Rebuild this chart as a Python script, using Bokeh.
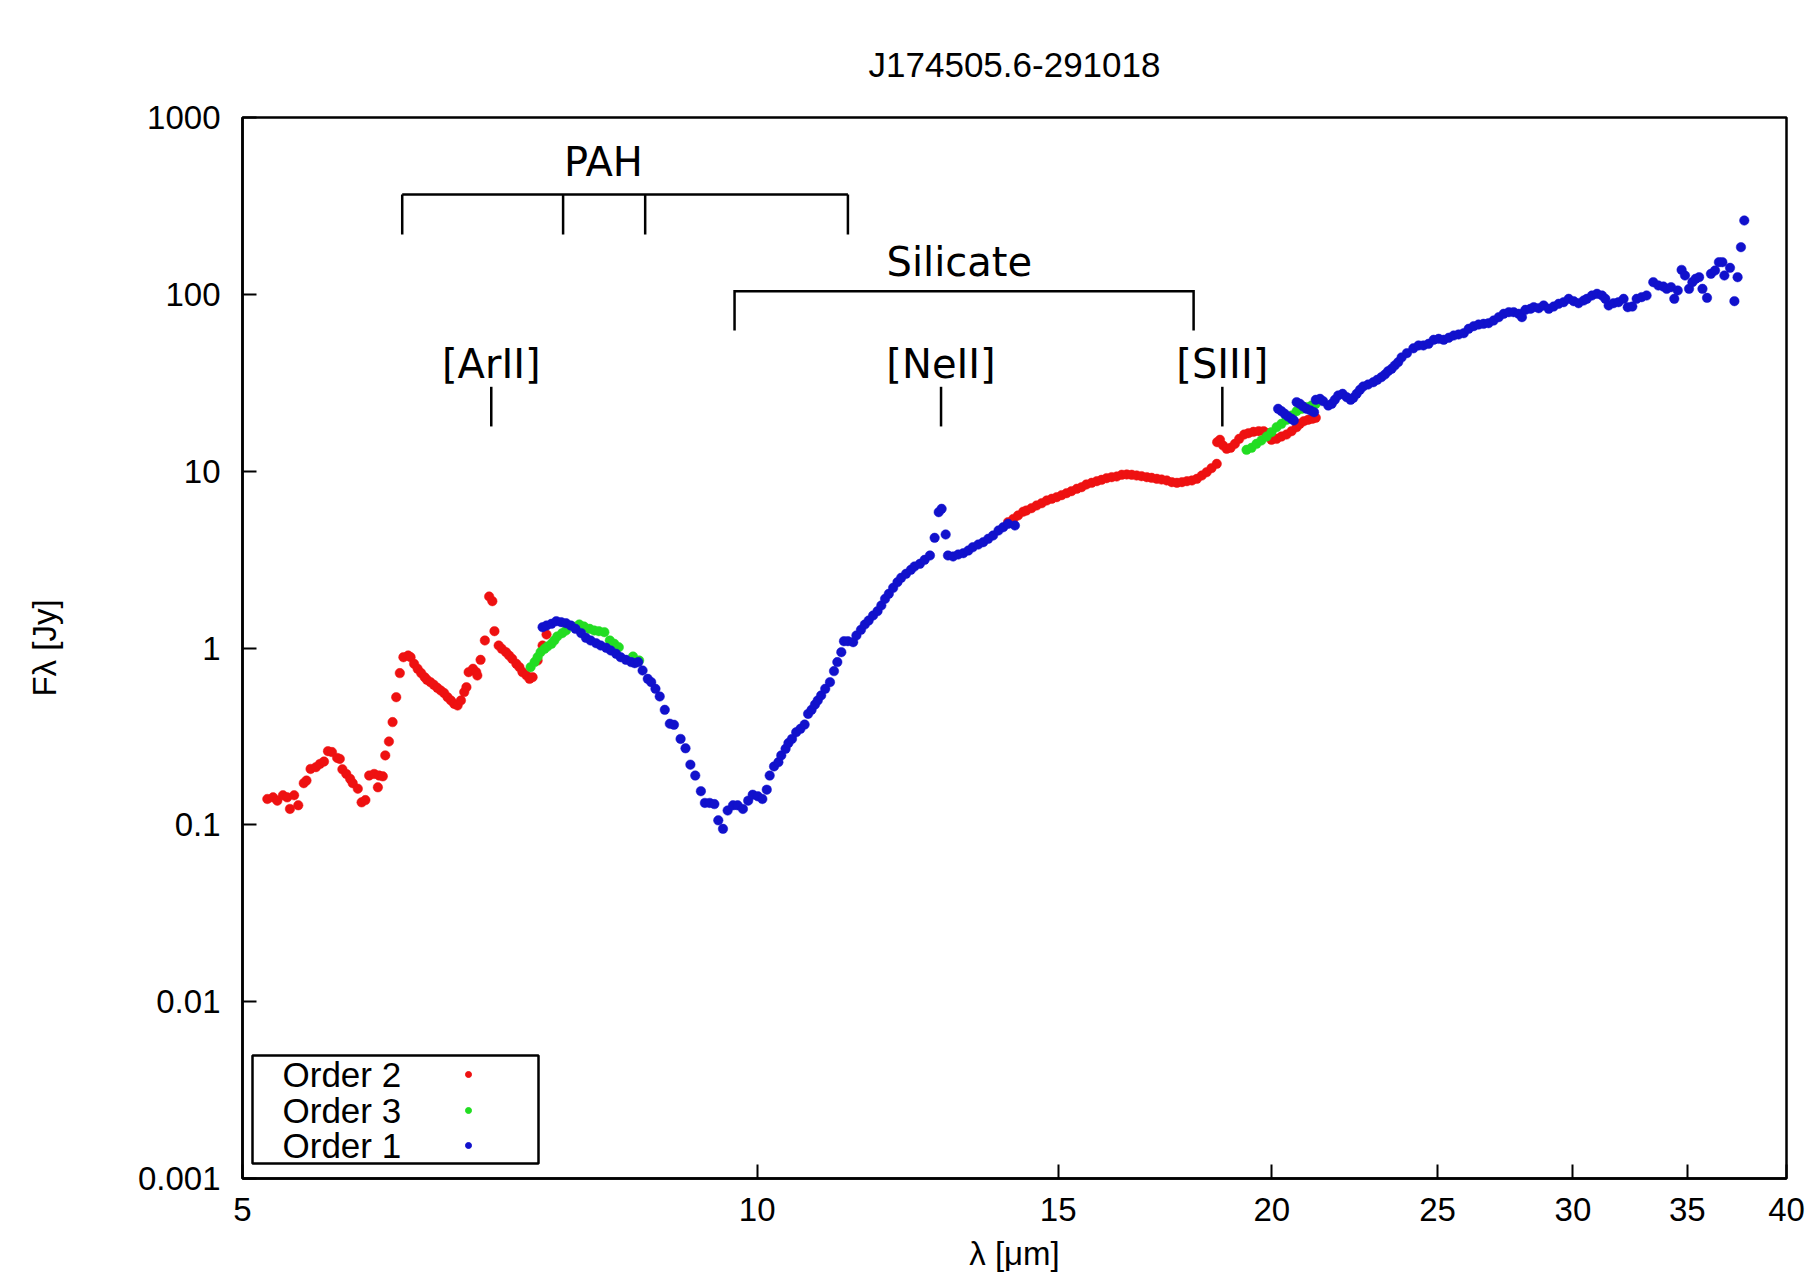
from bokeh.plotting import figure
from bokeh.models import (Range1d, FixedTicker, CustomJSTickFormatter, Label,
                          BoxAnnotation, LinearScale)
from bokeh.core.properties import value
from bokeh.embed import file_html
from bokeh.resources import INLINE

# ---------------- texts ----------------
title_text = "J174505.6-291018"
x_label = "λ [μm]"
y_label = "Fλ [Jy]"
legend_labels = ["Order 2", "Order 3", "Order 1"]

# ---------------- axes ----------------
x_ticks = [5, 10, 15, 20, 25, 30, 35, 40]
y_ticks = [0.001, 0.01, 0.1, 1, 10, 100, 1000]

# ---------------- Order 2 (red) ----------------
order2_wl = [
    5.17, 5.21, 5.24, 5.28, 5.31, 5.33, 5.36, 5.39, 5.43, 5.45,
    5.48, 5.52, 5.55, 5.58, 5.61, 5.64, 5.68, 5.70, 5.72, 5.75,
    5.78, 5.80, 5.84, 5.87, 5.90, 5.93, 5.97, 6.00, 6.01, 6.04,
    6.06, 6.09, 6.12, 6.15, 6.18, 6.21, 6.25, 6.27, 6.30, 6.33,
    6.36, 6.39, 6.41, 6.44, 6.47, 6.50, 6.53, 6.56, 6.59, 6.62,
    6.65, 6.68, 6.71, 6.74, 6.76, 6.78, 6.82, 6.85, 6.86, 6.89,
    6.93, 6.97, 7.00, 7.02, 7.06, 7.09, 7.13, 7.16, 7.19, 7.23,
    7.26, 7.29, 7.33, 7.36, 7.39, 7.44, 7.49, 7.53,
    14.02, 14.12, 14.21, 14.31, 14.37, 14.47, 14.57, 14.67, 14.77, 14.87,
    14.97, 15.07, 15.17, 15.27, 15.38, 15.48, 15.58, 15.69, 15.80, 15.90,
    16.01, 16.12, 16.23, 16.34, 16.45, 16.56, 16.67, 16.78, 16.90, 17.01,
    17.13, 17.24, 17.36, 17.48, 17.60, 17.72, 17.84, 17.96, 18.08, 18.20,
    18.32, 18.44, 18.57,
    18.58, 18.65, 18.73, 18.82, 18.92, 19.03, 19.14, 19.27, 19.38, 19.51,
    19.65, 19.78, 19.89, 19.99, 20.13, 20.26, 20.40, 20.54, 20.68, 20.77,
    20.88, 21.00, 21.12, 21.22,
]
order2_flux = [
    0.140, 0.143, 0.137, 0.147, 0.143, 0.123, 0.147, 0.129, 0.172, 0.178,
    0.207, 0.212, 0.221, 0.228, 0.261, 0.258, 0.239, 0.236, 0.206, 0.194,
    0.182, 0.172, 0.160, 0.134, 0.138, 0.190, 0.194, 0.163, 0.190, 0.188,
    0.247, 0.296, 0.381, 0.527, 0.721, 0.887, 0.907, 0.887, 0.814, 0.763,
    0.721, 0.684, 0.661, 0.641, 0.619, 0.595, 0.575, 0.556, 0.527, 0.505,
    0.483, 0.473, 0.505, 0.563, 0.600, 0.730, 0.763, 0.730, 0.699, 0.857,
    1.103, 1.955, 1.840, 1.245, 1.033, 0.989, 0.947, 0.907, 0.868, 0.814,
    0.779, 0.730, 0.699, 0.669, 0.684, 0.850, 1.033, 1.192,
    5.15, 5.37, 5.62, 5.90, 5.99, 6.18, 6.40, 6.59, 6.83, 6.98,
    7.13, 7.32, 7.51, 7.71, 7.95, 8.12, 8.41, 8.59, 8.78, 8.93,
    9.13, 9.25, 9.33, 9.54, 9.58, 9.54, 9.45, 9.37, 9.25, 9.17,
    9.05, 8.97, 8.86, 8.67, 8.59, 8.67, 8.78, 8.86, 9.05, 9.45,
    9.87, 10.40, 11.00,
    14.59, 15.04, 13.97, 13.38, 13.55, 14.27, 15.23, 16.12, 16.40, 16.69,
    16.84, 16.84, 16.40, 15.04, 15.23, 15.70, 16.12, 16.84, 17.74, 18.52,
    19.17, 19.51, 19.77, 20.03,
]

# ---------------- Order 3 (green) ----------------
order3_wl = [
    7.37, 7.41, 7.44, 7.47, 7.51, 7.54, 7.58, 7.61, 7.64, 7.69,
    7.73, 7.80, 7.87, 7.92, 7.98, 8.03, 8.08, 8.14, 8.20, 8.25,
    8.30, 8.46, 8.53,
    19.33, 19.46, 19.59, 19.72, 19.86, 19.99, 20.13, 20.26, 20.40, 20.54,
    20.68, 20.82, 20.96, 21.10, 21.22,
]
order3_flux = [
    0.779, 0.832, 0.887, 0.947, 0.989, 1.020, 1.056, 1.103, 1.162, 1.213,
    1.256, 1.323, 1.358, 1.323, 1.283, 1.256, 1.245, 1.229, 1.103, 1.056,
    1.010, 0.895, 0.850,
    13.20, 13.55, 14.27, 14.91, 15.70, 16.62, 17.74, 18.52, 19.51, 20.64,
    21.84, 22.52, 23.01, 23.51, 24.03,
]

# ---------------- Order 1 (blue) ----------------
order1_wl = [
    7.49, 7.53, 7.58, 7.63, 7.68, 7.73, 7.78, 7.83, 7.89, 7.94,
    7.99, 8.05, 8.10, 8.16, 8.21, 8.27, 8.32, 8.38, 8.44, 8.48,
    8.52, 8.57, 8.63, 8.67, 8.72, 8.77, 8.83, 8.89, 8.94, 9.02,
    9.08, 9.14, 9.20, 9.27, 9.32, 9.38, 9.44, 9.49, 9.55, 9.61,
    9.68, 9.74, 9.81, 9.88, 9.94, 10.01, 10.07, 10.13, 10.17, 10.23,
    10.29, 10.33, 10.39, 10.43, 10.48, 10.54, 10.60, 10.66, 10.71, 10.76,
    10.81, 10.85, 10.90, 10.96, 11.03, 11.09, 11.14, 11.20, 11.24, 11.30,
    11.38, 11.43, 11.50, 11.56, 11.62, 11.69, 11.76, 11.82, 11.88, 11.94,
    12.01, 12.08, 12.14, 12.22, 12.30, 12.36, 12.45, 12.53, 12.62, 12.70,
    12.77, 12.82, 12.89, 12.93, 13.02, 13.11, 13.20, 13.29, 13.37, 13.47,
    13.56, 13.65, 13.74, 13.84, 13.93, 14.02, 14.15,
    20.17, 20.26, 20.35, 20.44, 20.54, 20.60, 20.68, 20.77, 20.86, 20.96,
    21.07, 21.17, 21.22, 21.34, 21.43, 21.58, 21.68, 21.77, 21.87, 22.00,
    22.12, 22.24, 22.32, 22.42, 22.52, 22.62, 22.77, 22.93, 23.05, 23.18,
    23.29, 23.39, 23.50, 23.60, 23.71, 23.82, 23.99, 24.20,
    24.37, 24.53, 24.70, 24.87, 25.04, 25.21, 25.38, 25.55, 25.72, 25.90,
    26.07, 26.25, 26.42, 26.60, 26.78, 26.96, 27.15, 27.33, 27.52, 27.70,
    27.89, 28.01, 28.14, 28.33, 28.46, 28.65, 28.84, 29.04, 29.23, 29.43,
    29.63, 29.83, 30.03, 30.23, 30.44, 30.57, 30.78, 30.99, 31.20, 31.34,
    31.48, 31.69, 31.90, 32.12, 32.30, 32.50, 32.69, 32.91, 33.13, 33.43,
    33.66, 33.89, 34.04, 34.24, 34.39, 34.55, 34.73, 34.89, 35.08, 35.24,
    35.39, 35.56, 35.72, 35.94, 36.13, 36.33, 36.52, 36.69, 36.79, 37.07,
    37.29, 37.45, 37.62, 37.79,
]
order1_flux = [
    1.311, 1.340, 1.370, 1.418, 1.400, 1.382, 1.340, 1.283, 1.213, 1.142,
    1.103, 1.065, 1.033, 1.002, 0.968, 0.927, 0.887, 0.857, 0.832, 0.821,
    0.832, 0.746, 0.669, 0.641, 0.588, 0.532, 0.447, 0.373, 0.368, 0.306,
    0.271, 0.219, 0.190, 0.155, 0.133, 0.133, 0.131, 0.106, 0.0949, 0.1205,
    0.129, 0.129, 0.123, 0.137, 0.148, 0.145, 0.140, 0.158, 0.190, 0.214,
    0.226, 0.247, 0.269, 0.290, 0.306, 0.334, 0.349, 0.369, 0.424, 0.447,
    0.479, 0.505, 0.539, 0.588, 0.641, 0.740, 0.832, 0.947, 1.093, 1.093,
    1.079, 1.177, 1.267, 1.358, 1.430, 1.527, 1.616, 1.739, 1.897, 2.025,
    2.189, 2.357, 2.494, 2.627, 2.767, 2.890, 2.991, 3.151, 3.336, 4.198,
    5.864, 6.124, 4.384, 3.336, 3.292, 3.379, 3.438, 3.558, 3.716, 3.848,
    3.968, 4.143, 4.327, 4.618, 4.824, 5.037, 4.929,
    22.52, 21.84, 21.10, 20.38, 19.77, 19.35, 24.56, 24.03, 23.21, 22.52,
    22.03, 21.56, 25.32, 25.64, 24.88, 23.51, 24.03, 25.32, 26.79, 27.37,
    26.21, 25.32, 25.99, 27.37, 28.84, 30.12, 30.91, 31.86, 32.85, 34.01,
    35.21, 36.77, 37.91, 39.59, 41.34, 44.0, 46.5, 49.5,
    51.4, 51.4, 52.5, 55.3, 56.0, 55.3, 56.8, 58.5, 59.3, 60.3,
    63.8, 66.1, 67.5, 68.1, 68.7, 71.1, 74.3, 77.6, 79.3, 79.3,
    77.6, 74.3, 81.7, 82.8, 84.6, 83.5, 86.5, 82.8, 85.3, 88.4,
    90.3, 94.3, 91.5, 89.1, 92.3, 94.3, 98.5, 100.7, 98.5, 94.3,
    86.5, 89.1, 90.3, 94.3, 84.6, 85.3, 94.3, 96.4, 98.5, 117.2,
    112.2, 110.7, 107.4, 109.8, 94.3, 105.1, 137.5, 127.8, 107.4, 117.2,
    122.4, 125.0, 107.4, 95.5, 130.6, 136.4, 152.0, 152.0, 127.8, 141.2,
    91.5, 125.0, 184.8, 261.5,
]

# ---------------- feature annotations ----------------
pah_bands = [6.2, 7.7, 8.6, 11.3]
pah_bar_flux = 367.0
pah_tick_flux = 218.0
pah_text = "PAH"
pah_text_pos = (8.13, 557.0)

silicate_ends = [9.7, 18.0]
silicate_bar_flux = 104.0
silicate_tick_flux = 62.5
silicate_text = "Silicate"
silicate_text_pos = (13.13, 152.0)

ion_names = ["[ArII]", "[NeII]", "[SIII]"]
ion_wl = [6.99, 12.81, 18.71]
ion_tick_top = 30.0
ion_tick_bottom = 17.9
ion_text_flux = 40.5

# ---------------- style / layout ----------------
W, H = 1809, 1285
FRAME_L, FRAME_R, FRAME_T, FRAME_B = 242, 1786, 117, 1178
SANS = "Liberation Sans"
ANN = "DejaVu Sans"
RED, GREEN, BLUE = "#ee1111", "#22dd22", "#1111cc"
TXT = "33px"

p = figure(width=W, height=H, x_axis_type="log", y_axis_type="log",
           x_range=Range1d(x_ticks[0], x_ticks[-1]),
           y_range=Range1d(y_ticks[0], y_ticks[-1]),
           output_backend="svg", toolbar_location=None,
           min_border_left=FRAME_L, min_border_right=W - FRAME_R,
           min_border_top=FRAME_T, min_border_bottom=H - FRAME_B,
           background_fill_color="white", border_fill_color="white")
p.grid.visible = False
p.outline_line_color = "black"
p.outline_line_width = 2.5
p.outline_line_alpha = 1.0

# title
p.title.text = title_text
p.title.align = "center"
p.title.text_font = SANS
p.title.text_font_size = "35px"
p.title.text_font_style = "normal"
p.title.text_color = "black"
p.title.standoff = 68

for ax, ticks in ((p.xaxis[0], x_ticks), (p.yaxis[0], y_ticks)):
    ax.ticker = FixedTicker(ticks=ticks, minor_ticks=[])
    ax.formatter = CustomJSTickFormatter(code="return String(tick)")
    ax.major_tick_in = 14
    ax.major_tick_out = 0
    ax.minor_tick_in = 0
    ax.minor_tick_out = 0
    ax.major_tick_line_width = 2
    ax.major_tick_line_color = "black"
    ax.axis_line_width = 2.5
    ax.axis_line_color = "black"
    ax.major_label_text_font = SANS
    ax.major_label_text_font_size = TXT
    ax.major_label_text_color = "black"
    ax.axis_label_text_font = SANS
    ax.axis_label_text_font_size = TXT
    ax.axis_label_text_font_style = "normal"
    ax.axis_label_text_color = "black"
p.xaxis.major_label_standoff = 19
p.yaxis.major_label_standoff = 22
p.xaxis.axis_label = x_label
p.xaxis.axis_label_standoff = 11
p.yaxis.axis_label = y_label
p.yaxis.axis_label_standoff = 72

# data
p.scatter(order2_wl, order2_flux, size=9.5, fill_color=RED, line_color=RED, line_width=0.5)
p.scatter(order3_wl, order3_flux, size=9.5, fill_color=GREEN, line_color=GREEN, line_width=0.5)
p.scatter(order1_wl, order1_flux, size=9.5, fill_color=BLUE, line_color=BLUE, line_width=0.5)

# PAH bracket
p.segment(x0=pah_bands, y0=[pah_bar_flux] * len(pah_bands),
          x1=pah_bands, y1=[pah_tick_flux] * len(pah_bands),
          line_color="black", line_width=2.5)
p.segment(x0=[pah_bands[0]], y0=[pah_bar_flux], x1=[pah_bands[-1]], y1=[pah_bar_flux],
          line_color="black", line_width=2.5)
# Silicate bracket
p.line(x=[silicate_ends[0], silicate_ends[0], silicate_ends[1], silicate_ends[1]],
       y=[silicate_tick_flux, silicate_bar_flux, silicate_bar_flux, silicate_tick_flux],
       line_color="black", line_width=2.5, line_join="miter")
# ion lines
p.segment(x0=ion_wl, y0=[ion_tick_top] * len(ion_wl), x1=ion_wl,
          y1=[ion_tick_bottom] * len(ion_wl), line_color="black", line_width=2.5)

p.text(x=[pah_text_pos[0], silicate_text_pos[0]] + ion_wl,
       y=[pah_text_pos[1], silicate_text_pos[1]] + [ion_text_flux] * len(ion_wl),
       text=[pah_text, silicate_text] + ion_names,
       text_font=value(ANN), text_font_size="40px", text_color="black",
       text_align="center", text_baseline="middle")

# legend (text first, marker after, as in the original)
LEG_L, LEG_R, LEG_T, LEG_B = 252, 538, 1055, 1163
leg_rows = [1074, 1110, 1145]
p.add_layout(BoxAnnotation(left=LEG_L, right=LEG_R, top=LEG_T, bottom=LEG_B,
                           left_units="canvas", right_units="canvas",
                           top_units="canvas", bottom_units="canvas",
                           fill_alpha=0, line_color="black", line_width=2.5,
                           line_alpha=1.0))
for lab, ry in zip(legend_labels, leg_rows):
    p.add_layout(Label(x=282, y=ry, x_units="canvas", y_units="canvas", text=lab,
                       text_font=SANS, text_font_size="35px", text_align="left",
                       text_baseline="middle", text_color="black"))

p.extra_x_ranges = {"canvas": Range1d(FRAME_L, FRAME_R)}
p.extra_y_ranges = {"canvas": Range1d(FRAME_B, FRAME_T)}
p.extra_x_scales = {"canvas": LinearScale()}
p.extra_y_scales = {"canvas": LinearScale()}
p.scatter(x=[468] * 3, y=leg_rows, x_range_name="canvas", y_range_name="canvas",
          size=6, fill_color=[RED, GREEN, BLUE], line_color=[RED, GREEN, BLUE])

open("out.html", "w").write(file_html(p, INLINE))
